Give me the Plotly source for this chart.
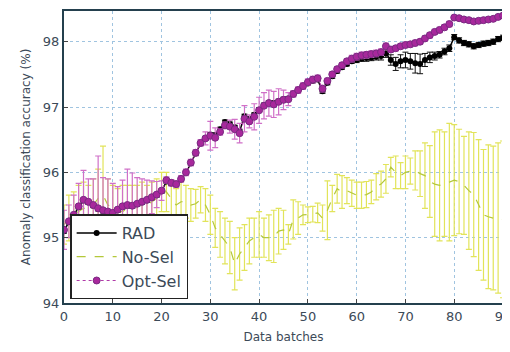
import plotly.graph_objects as go

batches = list(range(91))

opt_sel = [95.12, 95.25, 95.35, 95.48, 95.58, 95.55, 95.50, 95.45, 95.42, 95.40,
           95.38, 95.43, 95.48, 95.50, 95.49, 95.52, 95.55, 95.58, 95.62, 95.66,
           95.72, 95.88, 95.84, 95.82, 95.90, 96.00, 96.15, 96.30, 96.45, 96.52,
           96.56, 96.53, 96.62, 96.72, 96.70, 96.66, 96.60, 96.82, 96.78, 96.85,
           96.95, 97.02, 97.06, 97.04, 97.08, 97.11, 97.12, 97.20, 97.26, 97.32,
           97.38, 97.42, 97.44, 97.28, 97.40, 97.50, 97.58, 97.64, 97.70, 97.74,
           97.77, 97.79, 97.80, 97.81, 97.82, 97.84, 97.93, 97.88, 97.90, 97.93,
           97.95, 97.96, 97.98, 98.00, 98.05, 98.10, 98.15, 98.18, 98.22, 98.27,
           98.37, 98.36, 98.34, 98.33, 98.31, 98.32, 98.33, 98.34, 98.35, 98.38,
           98.40]
opt_err = [0.30, 0.25, 0.30, 0.35, 0.45, 0.35, 0.40, 0.80, 0.50, 0.50,
           0.45, 0.35, 0.40, 0.55, 0.50, 0.40, 0.35, 0.30, 0.25, 0.20,
           0.15, 0.05, 0.05, 0.05, 0.05, 0.05, 0.05, 0.05, 0.05, 0.10,
           0.22, 0.15, 0.05, 0.05, 0.10, 0.15, 0.15, 0.20, 0.10, 0.20,
           0.20, 0.20, 0.20, 0.20, 0.20, 0.15, 0.10, 0.05, 0.05, 0.05,
           0.05, 0.05, 0.05, 0.05, 0.04, 0.04, 0.04, 0.04, 0.04, 0.05,
           0.05, 0.05, 0.05, 0.05, 0.05, 0.05, 0.05, 0.04, 0.04, 0.04,
           0.04, 0.04, 0.04, 0.04, 0.04, 0.04, 0.04, 0.04, 0.04, 0.04,
           0.03, 0.03, 0.03, 0.03, 0.03, 0.03, 0.03, 0.03, 0.03, 0.03,
           0.03]

rad = [95.10, 95.24, 95.34, 95.47, 95.57, 95.54, 95.49, 95.44, 95.41, 95.39,
       95.37, 95.42, 95.47, 95.49, 95.48, 95.51, 95.54, 95.57, 95.61, 95.65,
       95.71, 95.86, 95.83, 95.81, 95.89, 95.99, 96.14, 96.29, 96.44, 96.52,
       96.58, 96.57, 96.66, 96.77, 96.74, 96.69, 96.63, 96.86, 96.82, 96.88,
       96.96, 97.03, 97.07, 97.06, 97.09, 97.12, 97.13, 97.20, 97.26, 97.31,
       97.36, 97.40, 97.42, 97.24, 97.37, 97.47, 97.55, 97.61, 97.66, 97.70,
       97.72, 97.74, 97.75, 97.76, 97.77, 97.78, 97.82, 97.72, 97.66, 97.70,
       97.72, 97.70, 97.67, 97.66, 97.72, 97.76, 97.78, 97.80, 97.85, 97.90,
       98.07, 98.02, 97.98, 97.96, 97.93, 97.95, 97.97, 97.98, 98.00, 98.04,
       98.06]
rad_err = [0.03] * 60 + [0.04, 0.04, 0.05, 0.05, 0.05, 0.06, 0.06, 0.08, 0.10, 0.10,
                         0.12, 0.12, 0.15, 0.15, 0.10, 0.08, 0.06, 0.05, 0.05, 0.05,
                         0.04, 0.04, 0.04, 0.04, 0.04, 0.04, 0.04, 0.04, 0.04, 0.04,
                         0.04]

no_sel = [95.20, 95.30, 95.35, 95.40, 95.45, 95.45, 95.50, 95.60, 95.65, 95.50,
          95.45, 95.40, 95.40, 95.45, 95.45, 95.50, 95.50, 95.50, 95.55, 95.60,
          95.70, 95.70, 95.60, 95.50, 95.55, 95.55, 95.50, 95.52, 95.58, 95.50,
          95.35, 95.15, 95.05, 94.95, 94.85, 94.60, 94.75, 94.85, 94.95, 95.00,
          95.05, 95.00, 95.00, 95.02, 95.10, 95.12, 95.05, 95.28, 95.30, 95.35,
          95.35, 95.36, 95.38, 95.30, 95.42, 95.60, 95.75, 95.70, 95.72, 95.68,
          95.65, 95.65, 95.66, 95.70, 95.78, 95.82, 95.90, 96.08, 96.00, 95.95,
          96.00, 96.02, 96.03, 95.98, 95.95, 95.86, 95.82, 95.80, 95.82, 95.85,
          95.88, 95.86, 95.80, 95.72, 95.66, 95.50, 95.35, 95.32, 95.30, 95.30,
          95.28]
no_err = [0.30, 0.35, 0.35, 0.40, 0.40, 0.35, 0.40, 0.45, 0.75, 0.40,
          0.35, 0.35, 0.40, 0.35, 0.35, 0.30, 0.35, 0.30, 0.30, 0.30,
          0.30, 0.30, 0.28, 0.25, 0.30, 0.25, 0.25, 0.22, 0.20, 0.25,
          0.30, 0.30, 0.35, 0.35, 0.40, 0.40, 0.40, 0.35, 0.35, 0.30,
          0.35, 0.30, 0.35, 0.40, 0.35, 0.30, 0.15, 0.30, 0.25, 0.15,
          0.12, 0.12, 0.15, 0.20, 0.45, 0.20, 0.22, 0.25, 0.20, 0.20,
          0.20, 0.20, 0.20, 0.18, 0.20, 0.20, 0.22, 0.15, 0.25, 0.20,
          0.25, 0.20, 0.30, 0.35, 0.50, 0.55, 0.80, 0.85, 0.80, 0.90,
          0.85, 0.80, 0.75, 0.90, 0.95, 1.00, 1.00, 1.10, 1.10, 1.15,
          1.20]

x_ticks = [0, 10, 20, 30, 40, 50, 60, 70, 80, 90]
y_ticks = [94, 95, 96, 97, 98]

txt = "#3c4a58"
fig = go.Figure()
fig.add_trace(go.Scatter(
    x=batches, y=no_sel, name="No-Sel", mode="lines",
    line=dict(color="#b4c83a", width=1.2, dash="dash"),
    error_y=dict(type="data", array=no_err, color="#e2e45a", thickness=1.2, width=3),
    legendrank=2,
))
fig.add_trace(go.Scatter(
    x=batches, y=rad, name="RAD", mode="lines+markers",
    line=dict(color="#000000", width=1.5),
    marker=dict(color="#000000", size=6, symbol="circle"),
    error_y=dict(type="data", array=rad_err, color="#111111", thickness=1, width=3),
    legendrank=1,
))
fig.add_trace(go.Scatter(
    x=batches, y=opt_sel, name="Opt-Sel", mode="lines+markers",
    line=dict(color="#b03aa8", width=1.2, dash="dot"),
    marker=dict(color="#a8289c", size=7, symbol="circle", line=dict(color="#7a2a82", width=1)),
    error_y=dict(type="data", array=opt_err, color="#d070c8", thickness=1.2, width=3),
    legendrank=3,
))

# page body has an 8px margin, so the figure is sized/offset to compensate
fig.update_layout(
    width=502, height=344,
    margin=dict(l=56, r=7, t=3, b=49, autoexpand=False),
    paper_bgcolor="white", plot_bgcolor="white",
    font=dict(family="DejaVu Sans", color=txt, size=12),
    showlegend=True,
    legend=dict(x=0.014, y=0.012, xanchor="left", yanchor="bottom",
                bgcolor="white", bordercolor="#222222", borderwidth=1.5,
                font=dict(size=16, color=txt), traceorder="normal",
                itemwidth=40),
)
fig.update_xaxes(
    title=dict(text="Data batches", font=dict(size=12, color=txt), standoff=10),
    range=[0, 90], tickvals=x_ticks, ticks="inside", ticklen=4, automargin=False,
    ticklabeloverflow="allow",
    showgrid=True, gridcolor="#a0c4e0", griddash="dot", gridwidth=1,
    showline=True, linecolor="#24404e", linewidth=2, mirror=True,
    zeroline=False, tickfont=dict(size=13, color=txt),
)
fig.update_yaxes(
    title=dict(text="Anomaly classification accuracy (%)", font=dict(size=12, color=txt), standoff=10),
    range=[94, 98.47], tickvals=y_ticks, ticks="inside", ticklen=4, automargin=False,
    ticklabeloverflow="allow",
    showgrid=True, gridcolor="#a0c4e0", griddash="dot", gridwidth=1,
    showline=True, linecolor="#24404e", linewidth=2, mirror=True,
    zeroline=False, tickfont=dict(size=13, color=txt),
)

fig.write_html("out.html")
